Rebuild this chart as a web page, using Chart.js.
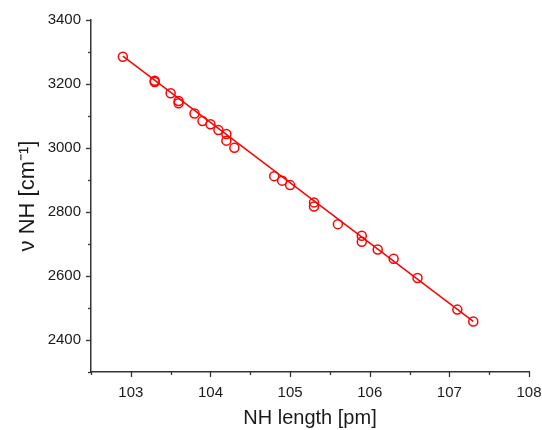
<!DOCTYPE html>
<html>
<head>
<meta charset="utf-8">
<script src="https://cdn.jsdelivr.net/npm/chart.js@4"></script>
<style>
  html, body { margin: 0; padding: 0; background: #fff; }
  #wrap { width: 542px; height: 430px; }
</style>
</head>
<body>
<div id="wrap"><canvas id="nhChart" width="542" height="430"></canvas></div>
<script>
const nhLength = [102.9, 103.3, 103.3, 103.5, 103.6, 103.6, 103.8, 103.9, 104.0, 104.1, 104.2, 104.2, 104.3,
  104.8, 104.9, 105.0, 105.3, 105.3, 105.6, 105.9, 105.9, 106.1, 106.3, 106.6, 107.1, 107.3];
const nuNH = [3285, 3210, 3206, 3171, 3147, 3140, 3108, 3084, 3074, 3056, 3044, 3023, 3001,
  2912, 2898, 2884, 2830, 2817, 2762, 2726, 2707, 2683, 2654, 2594, 2495, 2458];

// linear fit line end points
const fitX = [102.9, 107.3];
const fitY = [3287, 2458];

const red = "#ff0000";
const axisColor = "#333333";
const textColor = "#1a1a1a";

// minor / major tick marks drawn outside the axes
const tickMarks = {
  id: "tickMarks",
  afterDraw(chart) {
    const ctx = chart.ctx;
    const xs = chart.scales.x, ys = chart.scales.y;
    const area = chart.chartArea;
    ctx.save();
    ctx.strokeStyle = axisColor;
    ctx.lineWidth = 1.3;
    for (let v = 2300; v <= 3400; v += 100) {
      const py = Math.round(ys.getPixelForValue(v)) + 0.5;
      const len = v % 200 === 0 ? 5 : 3;
      ctx.beginPath();
      ctx.moveTo(area.left, py);
      ctx.lineTo(area.left - len, py);
      ctx.stroke();
    }
    for (let v = 102.5; v <= 108.001; v += 0.5) {
      const px = Math.round(xs.getPixelForValue(v)) + 0.5;
      const len = Math.abs(v - Math.round(v)) < 0.01 ? 5 : 3;
      ctx.beginPath();
      ctx.moveTo(px, area.bottom);
      ctx.lineTo(px, area.bottom + len);
      ctx.stroke();
    }
    ctx.restore();
  }
};

new Chart(document.getElementById("nhChart").getContext("2d"), {
  type: "scatter",
  data: {
    datasets: [
      {
        label: "fit",
        type: "line",
        data: fitX.map((x, i) => ({ x: x, y: fitY[i] })),
        borderColor: red,
        borderWidth: 1.5,
        pointRadius: 0,
        fill: false
      },
      {
        label: "NH",
        data: nhLength.map((x, i) => ({ x: x, y: nuNH[i] })),
        borderColor: red,
        backgroundColor: "rgba(0,0,0,0)",
        borderWidth: 1.5,
        pointRadius: 4.5
      }
    ]
  },
  options: {
    responsive: false,
    animation: false,
    layout: { padding: { top: 20, right: 13, left: 0, bottom: 0 } },
    plugins: { legend: { display: false }, tooltip: { enabled: false } },
    scales: {
      x: {
        type: "linear",
        min: 102.5,
        max: 108,
        grid: { display: false },
        border: { display: true, color: axisColor, width: 1.5 },
        ticks: {
          stepSize: 0.5,
          autoSkip: false,
          maxRotation: 0,
          padding: 4,
          color: textColor,
          font: { family: "Liberation Sans", size: 15 },
          callback: v => (Math.abs(v - Math.round(v)) < 0.01 ? String(Math.round(v)) : "")
        },
        title: {
          display: true,
          text: "NH length [pm]",
          color: textColor,
          font: { family: "Liberation Sans", size: 20 },
          padding: { top: 2, bottom: 0 }
        },
        afterFit: s => { s.height = 58; s.paddingRight = 0; s.paddingLeft = 0; }
      },
      y: {
        min: 2300,
        max: 3400,
        grid: { display: false },
        border: { display: true, color: axisColor, width: 1.5 },
        ticks: {
          stepSize: 100,
          autoSkip: false,
          padding: 2,
          color: textColor,
          font: { family: "Liberation Sans", size: 15 },
          callback: v => (v % 200 === 0 ? String(v) : "")
        },
        title: {
          display: true,
          text: "ν NH [cm⁻¹]",
          color: textColor,
          font: { family: "Liberation Sans", size: 22 },
          padding: { top: 15, bottom: 0 }
        },
        afterFit: s => { s.width = 91; s.paddingTop = 0; s.paddingBottom = 0; }
      }
    }
  },
  plugins: [tickMarks]
});
</script>
</body>
</html>
